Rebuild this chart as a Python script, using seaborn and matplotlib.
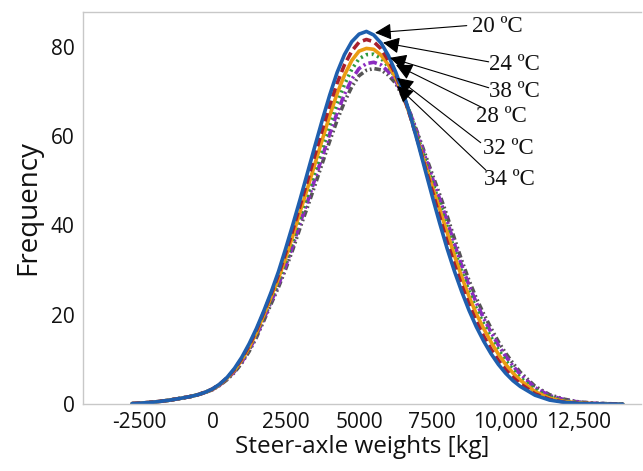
import matplotlib
matplotlib.use("Agg")
import matplotlib.pyplot as plt
import seaborn as sns
import pandas as pd

weights = [-2750, -2500, -2000, -1500, -1000, -750, -500, -250,
           0, 250, 500, 750, 1000, 1250, 1500, 1750, 2000, 2250, 2500, 2750,
           3000, 3250, 3500, 3750, 4000, 4250, 4500, 4750, 5000, 5250, 5500, 5750,
           6000, 6250, 6500, 6750, 7000, 7250, 7500, 7750, 8000, 8250, 8500, 8750,
           9000, 9250, 9500, 9750, 10000, 10250, 10500,
           11000, 11500, 12000, 12500, 13000, 13500, 14000]

left_tail = [0.1, 0.2, 0.45, 0.85, 1.4, 1.7, 2.1, 2.65]

freq_20 = left_tail + [3.4, 4.5, 6.0, 8.0, 10.5, 13.5, 16.95, 20.85, 25.05, 29.65, 34.9, 40.4,
                       46.1, 52.0, 57.9, 63.7, 69.2, 74.2, 78.2, 81.1, 82.8, 83.4, 82.6, 80.8,
                       78.0, 74.3, 69.8, 64.5, 58.6, 52.5, 46.4, 40.5, 34.9, 29.8, 25.2, 21.0,
                       17.3, 14.1, 11.3, 8.9, 6.9, 5.25, 3.95,
                       2.0, 0.9, 0.4, 0.15, 0.06, 0.02, 0.0]
freq_24 = left_tail + [3.4, 4.5, 5.9, 7.8, 10.2, 13.1, 16.55, 20.55, 24.65, 28.95, 33.9, 39.2,
                       44.7, 50.2, 55.9, 61.5, 66.9, 71.8, 75.9, 79.0, 81.0, 81.6, 81.1, 79.5,
                       76.9, 73.8, 69.4, 64.3, 58.9, 53.1, 47.6, 41.9, 36.4, 31.3, 26.6, 22.3,
                       18.5, 15.2, 12.3, 9.8, 7.7, 5.95, 4.55,
                       2.3, 1.05, 0.45, 0.2, 0.08, 0.03, 0.0]
freq_38 = left_tail + [3.3, 4.4, 5.8, 7.6, 9.9, 12.7, 16.05, 19.95, 24.05, 28.15, 32.8, 37.9,
                       43.3, 48.5, 53.9, 59.3, 64.6, 69.5, 73.6, 76.9, 79.0, 79.6, 79.4, 78.1,
                       75.9, 73.1, 69.1, 64.4, 59.1, 53.7, 48.6, 43.6, 38.5, 33.3, 28.5, 24.1,
                       20.2, 16.9, 13.9, 11.2, 8.9, 6.95, 5.35,
                       2.8, 1.3, 0.6, 0.25, 0.1, 0.04, 0.0]
freq_28 = left_tail + [3.3, 4.4, 5.7, 7.5, 9.7, 12.4, 15.75, 19.55, 23.55, 27.45, 31.9, 36.8,
                       42.0, 46.9, 52.1, 57.3, 62.5, 67.3, 71.5, 74.9, 77.3, 78.2, 78.3, 77.4,
                       75.5, 73.0, 69.3, 64.9, 59.9, 54.7, 49.7, 44.8, 39.8, 34.6, 29.7, 25.3,
                       21.4, 18.0, 15.0, 12.2, 9.8, 7.75, 5.95,
                       3.2, 1.6, 0.8, 0.35, 0.15, 0.06, 0.02]
freq_32 = left_tail + [3.2, 4.3, 5.6, 7.3, 9.4, 12.1, 15.35, 19.05, 22.95, 26.75, 31.0, 35.7,
                       40.8, 45.5, 50.5, 55.5, 60.5, 65.2, 69.3, 72.7, 75.1, 76.2, 76.5, 75.9,
                       74.4, 72.3, 69.0, 65.0, 60.3, 55.4, 50.6, 45.9, 41.1, 35.9, 31.0, 26.6,
                       22.7, 19.2, 16.1, 13.2, 10.7, 8.55, 6.65,
                       3.7, 1.9, 1.0, 0.45, 0.2, 0.08, 0.03]
freq_34 = left_tail + [3.2, 4.2, 5.5, 7.1, 9.2, 11.8, 14.95, 18.65, 22.45, 26.15, 30.3, 34.8,
                       39.7, 44.3, 49.1, 54.0, 58.9, 63.5, 67.6, 71.0, 73.5, 74.7, 75.1, 74.8,
                       73.6, 71.8, 68.7, 65.0, 60.6, 56.0, 51.4, 46.9, 42.2, 37.1, 32.2, 27.7,
                       23.7, 20.2, 17.0, 14.0, 11.4, 9.15, 7.15,
                       4.0, 2.1, 1.1, 0.5, 0.22, 0.09, 0.04]

series_labels = ["20 ºC", "24 ºC", "38 ºC", "28 ºC", "32 ºC", "34 ºC"]
series_values = [freq_20, freq_24, freq_38, freq_28, freq_32, freq_34]

x_ticks = [-2500, 0, 2500, 5000, 7500, 10000, 12500]
x_tick_labels = ["-2500", "0", "2500", "5000", "7500", "10,000", "12,500"]
y_ticks = [0, 20, 40, 60, 80]

# annotation arrow tips / tails / text anchors (data coords)
arrow_tips = [(5544, 83.1), (5816, 80.9), (6054, 77.5), (6259, 75.9), (6293, 73.0), (6293, 71.2)]
arrow_tails = [(8673, 84.7), (9422, 76.6), (9422, 70.8), (9218, 66.3), (9150, 58.5), (9320, 52.4)]
text_pos = [(8844, 84.4), (9422, 76.1), (9422, 69.9), (8980, 64.3), (9218, 57.3), (9252, 50.2)]

sns.set_style("white")
plt.rcParams["font.family"] = ["Open Sans", "DejaVu Sans"]

styles = [
    dict(color="#1f5fae", linestyle="-"),
    dict(color="#a8202e", linestyle=(0, (2.4, 1.2))),
    dict(color="#eb9c12", linestyle="-"),
    dict(color="#2e9a3c", linestyle=(0, (0.6, 1.0))),
    dict(color="#8b2cc0", linestyle=(0, (2.4, 0.9, 0.6, 0.9))),
    dict(color="#555555", linestyle=(0, (1.8, 0.8, 0.5, 0.8, 0.5, 0.8))),
]

rows = []
for lab, vals in zip(series_labels, series_values):
    for w, f in zip(weights, vals):
        rows.append({"weight": w, "freq": f, "temp": lab})
df = pd.DataFrame(rows)

fig = plt.figure(figsize=(6.43, 4.71), dpi=100)
ax = fig.add_axes([0.129, 0.142, 0.868, 0.833])

order = [5, 4, 3, 2, 1, 0]
for i in order:
    sub = df[df["temp"] == series_labels[i]]
    sns.lineplot(data=sub, x="weight", y="freq", ax=ax, linewidth=2.6,
                 estimator=None, sort=True, legend=False, **styles[i])

ax.set_xlim(-4420, 14620)
ax.set_ylim(0, 87.8)
ax.set_xticks(x_ticks)
ax.set_xticklabels(x_tick_labels)
ax.set_yticks(y_ticks)
ax.tick_params(axis="both", labelsize=15, length=3, color="#c0c0c0",
               width=0.8, pad=3, labelcolor="#111111")
ax.set_xlabel("Steer-axle weights [kg]", fontsize=17.5, color="#111111", labelpad=1)
ax.set_ylabel("Frequency", fontsize=20, color="#111111", labelpad=6)

for s in ["left", "bottom", "top"]:
    ax.spines[s].set_color("#c8c8c8")
    ax.spines[s].set_linewidth(1.0)
ax.spines["right"].set_visible(False)

for lab, tip, tl, tp in zip(series_labels, arrow_tips, arrow_tails, text_pos):
    ax.annotate("", xy=tip, xytext=tl,
                arrowprops=dict(arrowstyle="-|>", color="black", lw=0.8,
                                mutation_scale=25, shrinkA=0, shrinkB=0))
    ax.text(tp[0], tp[1], lab, fontsize=16.5, va="center", ha="left",
            family=["Liberation Serif", "DejaVu Serif"], color="#111111")

fig.savefig("out.png", dpi=100)
